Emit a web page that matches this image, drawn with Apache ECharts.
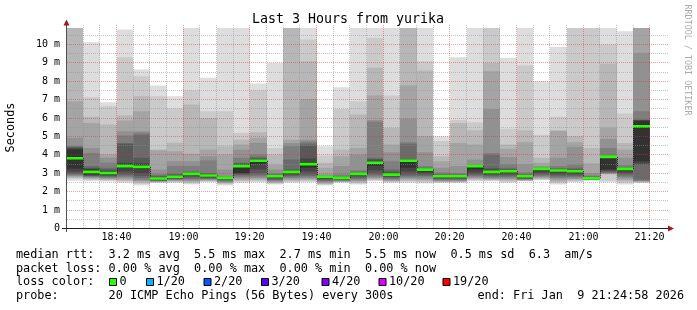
<!DOCTYPE html>
<html><head><meta charset="utf-8">
<script src="https://cdn.jsdelivr.net/npm/echarts@6/dist/echarts.min.js"></script>
<style>html,body{margin:0;padding:0;background:#fff}#c{width:697px;height:310px}</style>
</head><body><div id="c"></div>
<script>
// ---------------- data ----------------
const titleText = 'Last 3 Hours from yurika';
const endTime = '21:24:58';
const spanMinutes = 180;
const stepMinutes = 5;
const barStart = ['18:25','18:30','18:35','18:40','18:45','18:50','18:55','19:00','19:05','19:10','19:15','19:20',
  '19:25','19:30','19:35','19:40','19:45','19:50','19:55','20:00','20:05','20:10','20:15','20:20',
  '20:25','20:30','20:35','20:40','20:45','20:50','20:55','21:00','21:05','21:10','21:15'];
const medianMs = [3.82,3.08,3.02,3.39,3.35,2.72,2.81,2.97,2.88,2.75,3.39,3.68,2.84,3.08,3.5,2.81,2.75,2.97,3.57,2.93,
  3.68,3.2,2.84,2.84,3.39,3.08,3.11,2.84,3.24,3.15,3.11,2.73,3.89,3.24,5.56];
// 20 sorted ping times (ms) per 5-minute step
const pings = [
 [2.6,2.7,2.75,2.8,2.85,2.9,2.95,3.0,3.1,3.25,4.3,4.36,4.4,4.45,4.5,4.93,6.92,11.5,12,12.5],
 [2.57,2.63,2.68,2.72,2.76,2.8,2.84,2.87,2.9,2.95,3.2,3.25,3.3,3.39,4.11,4.38,5.74,6.07,7.13,10.12],
 [2.55,2.6,2.64,2.68,2.72,2.76,2.8,2.85,2.9,2.97,3.07,3.12,3.2,3.3,3.57,3.84,4.02,5.65,6.65,6.86],
 [2.48,2.55,2.6,2.65,2.72,2.8,2.88,2.95,3.1,3.3,3.48,3.57,4.6,4.65,5.05,5.29,5.87,6.16,9.31,10.81],
 [2.34,2.42,2.48,2.55,2.6,2.65,2.75,2.85,3.0,3.25,3.45,3.55,3.84,5.1,5.2,5.29,6.37,7.19,8.28,8.64],
 [2.48,2.5,2.52,2.54,2.56,2.58,2.6,2.62,2.65,2.69,2.75,2.78,2.82,2.88,2.95,3.2,4.25,4.29,7.19,7.77],
 [2.48,2.52,2.55,2.58,2.61,2.64,2.67,2.7,2.74,2.78,2.84,2.88,2.92,2.97,3.39,3.66,4.2,4.66,6.52,7.19],
 [2.39,2.45,2.5,2.55,2.6,2.66,2.72,2.78,2.85,2.93,3.0,3.02,3.05,3.1,3.39,3.66,4.06,6.74,7.52,11.2],
 [2.52,2.55,2.58,2.61,2.64,2.67,2.7,2.74,2.78,2.84,2.92,2.95,2.98,3.02,3.69,3.93,4.29,6.0,6.37,8.19],
 [2.34,2.4,2.44,2.48,2.52,2.56,2.6,2.63,2.68,2.73,2.76,2.77,2.79,2.81,2.84,3.2,4.02,4.47,6.37,11.5],
 [2.48,2.55,2.6,2.65,2.72,2.8,2.88,2.93,2.97,3.02,3.45,3.5,3.53,3.57,3.84,4.29,4.56,4.83,5.2,11.5],
 [2.52,2.57,2.62,2.68,2.75,2.82,2.9,3.0,3.2,3.5,3.72,3.76,3.82,3.9,4.02,4.65,4.93,5.23,7.52,7.88],
 [2.39,2.43,2.47,2.51,2.55,2.59,2.63,2.68,2.74,2.8,2.86,2.88,2.9,2.94,3.0,3.2,3.48,4.02,4.38,9.0],
 [2.48,2.53,2.58,2.64,2.7,2.76,2.82,2.88,2.95,3.02,3.12,3.15,3.2,3.75,4.47,4.65,4.83,11.5,12,12.5],
 [2.52,2.57,2.62,2.66,2.72,2.78,2.85,2.95,3.1,3.3,3.6,3.8,4.5,4.62,4.72,4.83,7.04,9.09,10.27,11.5],
 [2.34,2.38,2.42,2.46,2.5,2.55,2.6,2.66,2.72,2.78,2.82,2.83,2.84,2.86,2.88,2.93,3.3,3.57,3.97,4.47],
 [2.48,2.51,2.53,2.55,2.57,2.59,2.62,2.65,2.68,2.72,2.76,2.78,2.8,2.85,2.93,3.39,3.93,4.29,6.5,7.68],
 [2.39,2.45,2.5,2.55,2.6,2.66,2.72,2.78,2.85,2.92,2.98,3.0,3.03,3.08,3.17,4.02,4.38,6.2,6.92,11.5],
 [2.57,2.61,2.65,2.7,2.76,2.82,2.9,3.0,3.15,3.4,3.62,3.7,3.78,3.84,5.8,5.89,7.23,8.73,10.36,11.5],
 [2.48,2.51,2.55,2.58,2.62,2.67,2.72,2.78,2.84,2.9,2.97,3.02,3.1,3.2,3.66,4.15,4.56,5.47,7.23,11.5],
 [2.48,2.55,2.6,2.65,2.72,2.78,2.85,2.95,3.1,3.3,3.7,3.72,3.75,4.6,4.69,5.96,7.77,11.5,12,12.5],
 [2.44,2.5,2.57,2.63,2.7,2.78,2.85,2.92,3.0,3.1,3.21,3.23,3.26,3.3,3.39,4.15,5.02,8.59,9.09,11.5],
 [2.48,2.5,2.53,2.56,2.59,2.62,2.66,2.7,2.75,2.8,2.85,2.87,2.9,2.95,3.05,3.3,3.66,3.93,4.75,5.02],
 [2.48,2.5,2.53,2.56,2.59,2.62,2.66,2.7,2.75,2.8,2.85,2.87,2.89,2.93,3.0,3.39,4.65,5.74,5.89,9.31],
 [2.57,2.61,2.66,2.71,2.76,2.82,2.88,2.95,3.05,3.2,3.4,3.41,3.42,3.44,3.48,3.75,4.56,5.34,5.78,11.5],
 [2.57,2.6,2.63,2.67,2.71,2.76,2.82,2.88,2.95,3.02,3.12,3.2,3.3,4.0,4.11,6.5,8.55,9.0,11.5,12],
 [2.48,2.53,2.59,2.65,2.71,2.77,2.83,2.9,2.97,3.05,3.13,3.16,3.2,3.3,3.5,3.89,4.33,4.56,5.42,9.26],
 [2.57,2.58,2.6,2.62,2.64,2.66,2.69,2.72,2.76,2.8,2.86,2.88,2.9,2.95,3.05,3.51,4.69,5.34,8.86,11.5],
 [2.62,2.65,2.69,2.73,2.78,2.84,2.9,2.97,3.05,3.15,3.25,3.26,3.27,3.29,3.32,3.4,3.57,3.84,5.1,8.0],
 [2.39,2.46,2.53,2.6,2.68,2.75,2.82,2.9,2.98,3.08,3.17,3.19,3.22,3.28,3.4,3.84,5.3,5.34,6.07,9.87],
 [2.52,2.56,2.61,2.66,2.71,2.77,2.83,2.9,2.97,3.05,3.13,3.15,3.2,3.3,3.48,4.44,4.69,5.02,11.5,12],
 [2.6,2.62,2.63,2.64,2.65,2.66,2.67,2.68,2.69,2.71,2.74,2.76,2.78,2.82,2.88,3.0,3.53,4.38,11.5,12],
 [2.52,2.6,2.93,2.96,3.0,3.02,3.05,3.1,3.15,3.2,3.9,3.91,3.92,3.93,4.38,4.87,5.47,8.96,10.0,11.5],
 [2.39,2.48,2.56,2.64,2.72,2.8,2.88,2.97,3.05,3.15,3.26,3.28,3.3,3.33,3.45,3.84,4.29,4.65,6.25,10.72],
 [2.48,2.5,2.52,2.55,2.57,2.6,2.65,3.45,3.55,3.66,5.85,5.87,5.9,5.92,6.37,9.55,11.2,11.5,12,12.5]
];
const xTickLabels = ['18:40','19:00','19:20','19:40','20:00','20:20','20:40','21:00','21:20'];
const yMaxMs = 10.9;
const yTickValues = [0,1,2,3,4,5,6,7,8,9,10];
const legendLines = [
  'median rtt:  3.2 ms avg  5.5 ms max  2.7 ms min  5.5 ms now  0.5 ms sd  6.3  am/s',
  'packet loss: 0.00 % avg  0.00 % max  0.00 % min  0.00 % now'
];
const lossLabels = ['0','1/20','2/20','3/20','4/20','10/20','19/20'];
const lossColors = ['#26ff00','#00b8ff','#0059ff','#5e00ff','#7e00ff','#dd00ff','#ff0000'];
const lossBoxX = [109,146,203.5,261,321.5,378.5,442.5];
const probeLine = 'probe:       20 ICMP Echo Pings (56 Bytes) every 300s';
const endText = 'end: Fri Jan  9 21:24:58 2026';

// ---------------- helpers ----------------
const toMin = s => { const p = s.split(':').map(Number); return p[0]*60 + p[1] + (p[2]||0)/60; };
const endMin = toMin(endTime), startMin = endMin - spanMinutes;
const layerColors = ['#dddddd','#cacaca','#b7b7b7','#a4a4a4','#919191','#7e7e7e','#6b6b6b','#585858','#454545','#323232'];
const MONO = "'DejaVu Sans Mono', 'Liberation Mono', monospace";
const LEG = 11.83;

const smokeData = barStart.map((t,i) => [toMin(t), toMin(t)+stepMinutes].concat(pings[i]));
const medianData = barStart.map((t,i) => [toMin(t), toMin(t)+stepMinutes, medianMs[i], i>0 ? medianMs[i-1] : medianMs[i]]);

// grid line definitions (layout only)
const gridDefs = [];
for (let v = 0.5; v <= 10.5; v += 0.5) gridDefs.push({h:true, v:v, major: Number.isInteger(v)});
const majorTimes = xTickLabels.map(toMin);
for (let t = Math.ceil(startMin/stepMinutes)*stepMinutes + stepMinutes; t < endMin; t += stepMinutes) {
  gridDefs.push({h:false, v:t, major: majorTimes.indexOf(t) >= 0});
}

function renderSmoke(params, api) {
  const t0 = api.value(0), t1 = api.value(1);
  const children = [];
  for (let k = 0; k < 10; k++) {
    const lo = api.value(2 + k), hi = api.value(2 + 19 - k);
    const a = api.coord([t0, hi]), b = api.coord([t1, lo]);
    const x0 = Math.round(a[0]), x1 = Math.round(b[0]);
    children.push({type:'rect', shape:{x:x0, y:a[1], width:x1-x0, height:b[1]-a[1]},
      style:{fill: layerColors[k]}});
  }
  return {type:'group', children};
}
function renderMedian(params, api) {
  const t0 = api.value(0), t1 = api.value(1), m = api.value(2), pm = api.value(3);
  const a = api.coord([t0, m]), b = api.coord([t1, m]), p = api.coord([t0, pm]);
  const x0 = Math.round(a[0]), x1 = Math.round(b[0]);
  const children = [];
  if (params.dataIndex > 0 && Math.abs(p[1]-a[1]) > 1) {
    children.push({type:'line', shape:{x1:x0+0.5, y1:p[1], x2:x0+0.5, y2:a[1]},
      style:{stroke:'#202020', lineWidth:1, lineDash:[1,1]}});
  }
  children.push({type:'rect', shape:{x:x0, y:a[1]-1.3, width:x1-x0, height:2.6}, style:{fill:lossColors[0]}});
  return {type:'group', children};
}
function renderGrid(params, api) {
  const d = gridDefs[params.dataIndex];
  const stroke = d.major ? 'rgba(222,47,47,0.45)' : 'rgba(143,143,143,0.5)';
  if (d.h) {
    const a = api.coord([startMin, d.v]), b = api.coord([endMin, d.v]);
    const y = Math.floor(a[1]) + 0.5;
    return {type:'line', shape:{x1:Math.floor(a[0])+1, y1:y, x2:b[0]+2, y2:y},
      style:{stroke, lineWidth:1, lineDash:[1,1]}};
  } else {
    const a = api.coord([d.v, 0]), b = api.coord([d.v, yMaxMs]);
    const x = Math.floor(a[0]) + 0.5;
    return {type:'line', shape:{x1:x, y1:Math.floor(a[1]), x2:x, y2:b[1]-3},
      style:{stroke, lineWidth:1, lineDash:[1,1]}};
  }
}
function renderXLabel(params, api) {
  const t = majorTimes[params.dataIndex];
  const a = api.coord([t, 0]);
  return {type:'text', style:{text: xTickLabels[params.dataIndex], x: Math.floor(a[0])+0.5, y: a[1]+8.7,
    textAlign:'center', textVerticalAlign:'middle', align:'center', verticalAlign:'middle',
    font: '10px ' + MONO, fill:'#000'}};
}

// ---------------- legend graphics ----------------
const graphics = [];
function txt(text, x, y, size, align, fill) {
  return {type:'text', silent:true, style:{text, x, y, font: size+'px '+MONO, fill: fill || '#000',
    textAlign: align || 'left', align: align || 'left', textVerticalAlign:'middle', verticalAlign:'middle'}};
}
graphics.push(txt(titleText, 348, 19.5, 13.3, 'center'));
const ytitle = txt('Seconds', 0, 0, LEG, 'center');
ytitle.rotation = Math.PI/2; ytitle.x = 11; ytitle.y = 127.5; graphics.push(ytitle);
const rrd = txt('RRDTOOL / TOBI OETIKER', 0, 0, 8.4, 'center', '#aaaaaa');
rrd.rotation = -Math.PI/2; rrd.x = 687.5; rrd.y = 60; graphics.push(rrd);
graphics.push(txt(legendLines[0], 16, 255, LEG));
graphics.push(txt(legendLines[1], 16, 268.5, LEG));
graphics.push(txt('loss color:', 16, 282, LEG));
lossLabels.forEach((l,i) => {
  graphics.push({type:'rect', silent:true, shape:{x:lossBoxX[i]+0.5, y:278.5, width:7, height:7},
    style:{fill:lossColors[i], stroke:'#000', lineWidth:1}});
  graphics.push(txt(l, lossBoxX[i]+10.5, 282, LEG));
});
graphics.push(txt(probeLine, 16, 295.5, LEG));
graphics.push(txt(endText, 477.5, 295.5, LEG));
// axes lines & arrows
graphics.push({type:'line', silent:true, z:10, shape:{x1:66.5, y1:232, x2:66.5, y2:25}, style:{stroke:'#505050', lineWidth:1}});
graphics.push({type:'line', silent:true, z:10, shape:{x1:62, y1:228.5, x2:668, y2:228.5}, style:{stroke:'#202020', lineWidth:1}});
graphics.push({type:'polygon', silent:true, z:10, shape:{points:[[63.5,25.5],[69.5,25.5],[66.5,19.5]]}, style:{fill:'#9a1c1c'}});
graphics.push({type:'polygon', silent:true, z:10, shape:{points:[[668,225.5],[668,231.5],[674,228.5]]}, style:{fill:'#9a1c1c'}});

// ---------------- chart ----------------
const chart = echarts.init(document.getElementById('c'), null, {renderer:'canvas'});
chart.setOption({
  animation:false,
  backgroundColor:'#ffffff',
  grid:{left:66.5, top:228.5 - yMaxMs*18.4, width:600, height:yMaxMs*18.4, containLabel:false},
  xAxis:{type:'value', min:startMin, max:endMin, axisLine:{show:false}, axisTick:{show:false},
    axisLabel:{show:false}, splitLine:{show:false}},
  yAxis:{type:'value', min:0, max:yMaxMs, interval:1, axisLine:{show:false}, axisTick:{show:false},
    splitLine:{show:false},
    axisLabel:{show:true, margin:6.5, color:'#000', fontFamily:'DejaVu Sans Mono', fontSize:10, showMaxLabel:false,
      formatter: v => (yTickValues.indexOf(v) < 0 ? '' : (v === 0 ? '0' : v + ' m'))}},
  graphic: graphics,
  series:[
    {type:'custom', name:'smoke', renderItem:renderSmoke, data:smokeData, clip:true, z:2, silent:true,
      encode:{x:[0,1], y:[2]}},
    {type:'custom', name:'grid', renderItem:renderGrid, data:gridDefs.map((d,i)=>[i]), clip:false, z:3, silent:true,
      encode:{x:[], y:[]}},
    {type:'custom', name:'median', renderItem:renderMedian, data:medianData, clip:true, z:4, silent:true,
      encode:{x:[0,1], y:[2]}},
    {type:'custom', name:'xlabels', renderItem:renderXLabel, data:majorTimes.map(t=>[t,0]), clip:false, z:5, silent:true,
      encode:{x:[0], y:[1]}}
  ]
});
</script></body></html>
